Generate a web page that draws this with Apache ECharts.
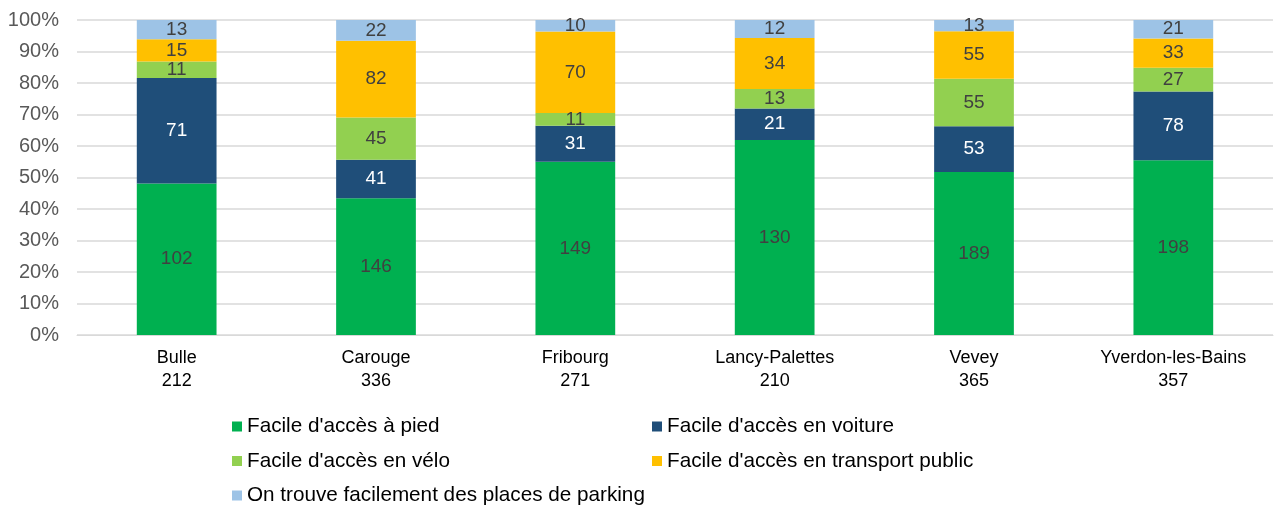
<!DOCTYPE html>
<html>
<head>
<meta charset="utf-8">
<script src="https://cdn.jsdelivr.net/npm/echarts@6/dist/echarts.min.js"></script>
<style>
  html, body { margin: 0; padding: 0; background: #fff; }
  #chart { width: 1275px; height: 507px; }
</style>
</head>
<body>
<div id="chart"></div>
<script>
const cities = ['Bulle', 'Carouge', 'Fribourg', 'Lancy-Palettes', 'Vevey', 'Yverdon-les-Bains']
const totals = [212, 336, 271, 210, 365, 357]

const seriesNames = [
  "Facile d'accès à pied",
  "Facile d'accès en voiture",
  "Facile d'accès en vélo",
  "Facile d'accès en transport public",
  "On trouve facilement des places de parking"
]
const pied = [102, 146, 149, 130, 189, 198]
const voiture = [71, 41, 31, 21, 53, 78]
const velo = [11, 45, 11, 13, 55, 27]
const transport = [15, 82, 70, 34, 55, 33]
const parking = [13, 22, 10, 12, 13, 21]

const yTicks = [0, 10, 20, 30, 40, 50, 60, 70, 80, 90, 100]

const colors = ['#00B050', '#1F4E79', '#92D050', '#FFC000', '#9DC3E6']
const counts = [pied, voiture, velo, transport, parking]
const font = '"Liberation Sans", Arial, sans-serif'

const chart = echarts.init(document.getElementById('chart'))

const series = counts.map((arr, i) => ({
  name: seriesNames[i],
  type: 'bar',
  stack: 'total',
  barWidth: '40%',
  itemStyle: { color: colors[i] },
  data: arr.map((v, j) => v / totals[j] * 100),
  label: {
    show: true,
    position: 'inside',
    color: i === 1 ? '#ffffff' : '#404040',
    fontFamily: font,
    fontSize: 19,
    formatter: (p) => arr[p.dataIndex]
  }
}))

const legendBase = {
  orient: 'vertical',
  top: 411,
  height: 100,
  itemWidth: 10,
  itemHeight: 10,
  itemGap: 13.5,
  icon: 'rect',
  textStyle: { color: '#000', fontFamily: font, fontSize: 20.7 }
}

const option = {
  animation: false,
  color: colors,
  grid: { left: 77, right: 2, top: 20, bottom: 172 },
  legend: [
    Object.assign({}, legendBase, {
      left: 227,
      data: [seriesNames[0], seriesNames[2], seriesNames[4]]
    }),
    Object.assign({}, legendBase, {
      left: 647,
      data: [seriesNames[1], seriesNames[3]]
    })
  ],
  xAxis: {
    type: 'category',
    data: cities.map((c, i) => c + '\n' + totals[i]),
    axisLine: { lineStyle: { color: '#D9D9D9', width: 1 } },
    axisTick: { show: false },
    axisLabel: {
      color: '#000',
      fontFamily: font,
      fontSize: 18,
      lineHeight: 23,
      margin: 12
    }
  },
  yAxis: {
    type: 'value',
    min: 0,
    max: 100,
    interval: 10,
    axisLine: { show: false },
    axisTick: { show: false },
    splitLine: { lineStyle: { color: '#D9D9D9', width: 1.5 } },
    axisLabel: {
      color: '#595959',
      fontFamily: font,
      fontSize: 20,
      margin: 18,
      formatter: (v) => yTicks.includes(v) ? v + '%' : ''
    }
  },
  series: series
}

chart.setOption(option)
</script>
</body>
</html>
